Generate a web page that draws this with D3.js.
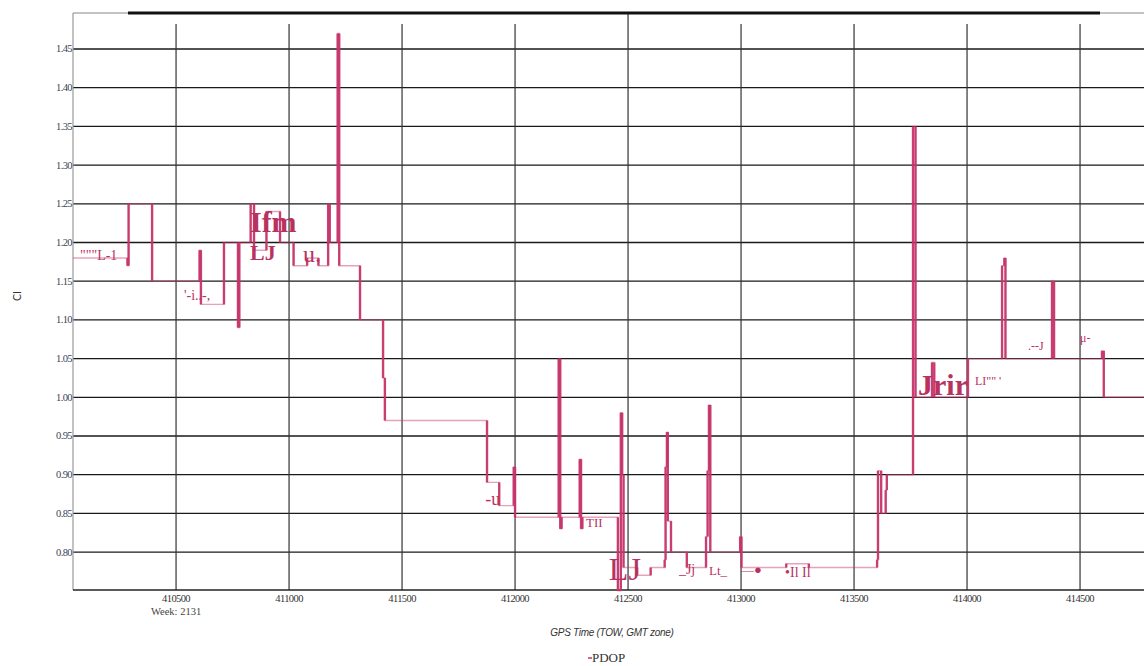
<!DOCTYPE html>
<html><head><meta charset="utf-8">
<script src="https://cdn.jsdelivr.net/npm/d3@7"></script>
<style>
html,body{margin:0;padding:0;background:#fff;}
svg{display:block;}
</style></head>
<body>
<svg id="c" width="1144" height="666"></svg>
<script>
// ---- data ----
const towTimes = [410044,410285,410290,410394,410604,410610,410712,410774,410780,410830,410845,410900,410960,411020,411080,411130,411173,411180,411215,411222,411314,411416,411424,411876,411930,411994,412000,412193,412200,412206,412286,412292,412298,412455,412468,412474,412480,412540,412600,412662,412666,412672,412676,412690,412760,412845,412852,412858,412864,412996,413002,413100,413200,413300,413602,413606,413620,413640,413645,413761,413772,413845,413855,414004,414155,414165,414170,414376,414385,414597,414605,414743,414783];
const pdopValues = [1.18,1.17,1.25,1.15,1.19,1.12,1.20,1.09,1.20,1.25,1.19,1.24,1.20,1.17,1.18,1.17,1.25,1.20,1.47,1.17,1.10,1.025,0.97,0.89,0.86,0.91,0.845,1.05,0.83,0.845,0.92,0.83,0.845,0.75,0.98,0.90,0.78,0.77,0.78,0.79,0.91,0.955,0.84,0.80,0.78,0.82,0.905,0.99,0.80,0.82,0.78,0.78,0.785,0.78,0.79,0.905,0.85,0.88,0.90,1.35,1.00,1.045,1.00,1.05,1.17,1.18,1.05,1.15,1.05,1.06,1.00,1.00,1.00];
const xTickValues = [410500,411000,411500,412000,412500,413000,413500,414000,414500];
const xTickLabels = ["410500","411000","411500","412000","412500","413000","413500","414000","414500"];
const yTickValues = [0.80,0.85,0.90,0.95,1.00,1.05,1.10,1.15,1.20,1.25,1.30,1.35,1.40,1.45];
const yTickLabels = ["0.80","0.85","0.90","0.95","1.00","1.05","1.10","1.15","1.20","1.25","1.30","1.35","1.40","1.45"];
const noteTexts = ["\"\"\"L-1","Ifm","LJ","u.","'-i..-,","-u","TII","LJ","_Jj","Lt_","•Il  Il","Jrir","LI\"\" '",".--J","μ-","—●"];
const noteTow =   [410075,410827,410827,411062,410535,411868,412314,412415,412725,412858,413195,413783,414035,414270,414500,413000];
const notePdop =  [1.177,1.213,1.177,1.175,1.126,0.861,0.832,0.764,0.772,0.770,0.768,1.003,1.016,1.061,1.071,0.772];
const noteSize =  [14,30,22,24,14,18,13,32,14,13,14,30,12,12,12,13];
const noteBold =  [0,1,1,0,0,0,0,0,0,0,0,1,0,0,0,0];

// ---- layout ----
const L = 73, R = 1144, T = 13, B = 590;
const svg = d3.select("#c");
const x = d3.scaleLinear().domain([410044, 414783]).range([L, R]);
const y = d3.scaleLinear().domain([0.751, 1.4965]).range([B, T]);
const serif = "'Liberation Serif','DejaVu Serif',serif";
const col = "#c6346a";

// horizontal grid
svg.append("g").selectAll("line").data(yTickValues).join("line")
  .attr("x1", L).attr("x2", R).attr("y1", d => y(d)).attr("y2", d => y(d))
  .attr("stroke", "#1a1a1a").attr("stroke-width", 1.3);
// vertical grid
svg.append("g").selectAll("line").data(xTickValues).join("line")
  .attr("x1", d => x(d)).attr("x2", d => x(d))
  .attr("y1", d => d === 412500 ? T : 24).attr("y2", B)
  .attr("stroke", "#333").attr("stroke-width", 1.2);

// frame
svg.append("line").attr("x1", L).attr("x2", R).attr("y1", T).attr("y2", T).attr("stroke", "#888").attr("stroke-width", 1);
svg.append("line").attr("x1", 128).attr("x2", 1100).attr("y1", T).attr("y2", T).attr("stroke", "#111").attr("stroke-width", 3);
svg.append("line").attr("x1", L).attr("x2", L).attr("y1", T).attr("y2", B).attr("stroke", "#999").attr("stroke-width", 1.2);
svg.append("line").attr("x1", L).attr("x2", R).attr("y1", B).attr("y2", B).attr("stroke", "#222").attr("stroke-width", 1.5);

// y tick labels
svg.append("g").selectAll("text").data(yTickValues).join("text")
  .attr("x", L - 1).attr("y", d => y(d) + 3.5).attr("text-anchor", "end")
  .attr("font-family", serif).attr("font-size", 10.5).attr("fill", "#3a4256")
  .attr("letter-spacing", "-0.6")
  .text((d, i) => yTickLabels[i]);
// x tick labels
svg.append("g").selectAll("text").data(xTickValues).join("text")
  .attr("x", d => x(d)).attr("y", 602).attr("text-anchor", "middle")
  .attr("font-family", serif).attr("font-size", 10.5).attr("fill", "#333")
  .attr("letter-spacing", "-0.6")
  .text((d, i) => xTickLabels[i]);
svg.append("text").attr("x", x(410500)).attr("y", 615).attr("text-anchor", "middle")
  .attr("font-family", serif).attr("font-size", 10.5).attr("fill", "#444").text("Week: 2131");

// axis titles
svg.append("text").attr("transform", "translate(21,296) rotate(-90)").attr("text-anchor", "middle")
  .attr("font-family", "'DejaVu Sans',sans-serif").attr("font-size", 10).attr("fill", "#333").text("CI");
svg.append("text").attr("x", 612).attr("y", 636).attr("text-anchor", "middle")
  .attr("font-family", "'Liberation Sans',Arial,sans-serif").attr("font-style", "italic")
  .attr("font-size", 10).attr("fill", "#333").attr("letter-spacing", "-0.3").text("GPS  Time (TOW, GMT zone)");
// legend
svg.append("line").attr("x1", 588).attr("x2", 592).attr("y1", 658).attr("y2", 658).attr("stroke", col).attr("stroke-width", 1.5);
svg.append("text").attr("x", 592).attr("y", 662)
  .attr("font-family", serif).attr("font-size", 13).attr("fill", "#333").text("PDOP");

// series: faint step path (horizontal runs) + strong vertical transitions
const pts = towTimes.map((t, i) => [t, pdopValues[i]]);
const line = d3.line().x(d => x(d[0])).y(d => y(d[1])).curve(d3.curveStepAfter);
svg.append("path").datum(pts).attr("d", line)
  .attr("fill", "none").attr("stroke", col).attr("stroke-width", 1.4).attr("opacity", 0.45);
const steps = pts.slice(1).map((p, i) => ({t: p[0], a: pts[i][1], b: p[1]}));
svg.append("g").selectAll("line").data(steps).join("line")
  .attr("x1", d => x(d.t)).attr("x2", d => x(d.t))
  .attr("y1", d => y(d.a)).attr("y2", d => y(d.b))
  .attr("stroke", col).attr("stroke-width", 2.4).attr("opacity", 0.92);

// scanned annotations
svg.append("g").selectAll("text").data(noteTexts).join("text")
  .attr("x", (d, i) => x(noteTow[i])).attr("y", (d, i) => y(notePdop[i]))
  .attr("font-family", serif).attr("font-size", (d, i) => noteSize[i])
  .attr("font-weight", (d, i) => noteBold[i] ? "bold" : "normal")
  .attr("fill", "#b8325f").text(d => d);
</script>
</body></html>
